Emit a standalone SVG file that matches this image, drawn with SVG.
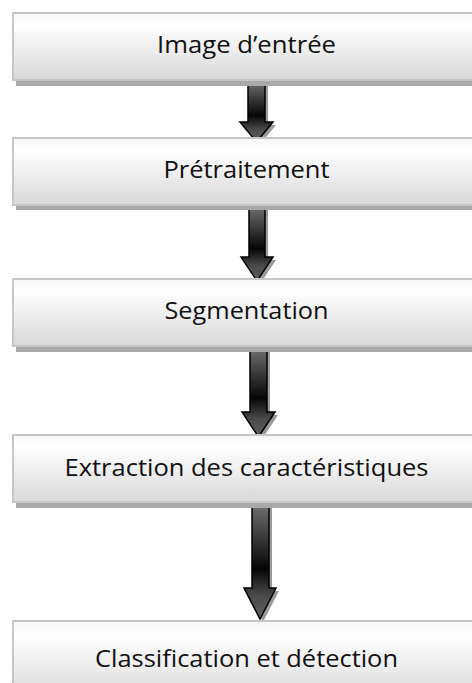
<svg xmlns="http://www.w3.org/2000/svg" width="472" height="683" viewBox="0 0 472 683">
<defs>
<linearGradient id="boxg" x1="0" y1="0" x2="0" y2="1">
<stop offset="0" stop-color="#f6f6f6"/>
<stop offset="0.18" stop-color="#ffffff"/>
<stop offset="1" stop-color="#d8d8d8"/>
</linearGradient>
<linearGradient id="arrg" x1="0" y1="0" x2="0" y2="1">
<stop offset="0" stop-color="#747474"/>
<stop offset="0.55" stop-color="#0a0a0a"/>
<stop offset="0.57" stop-color="#050505"/>
<stop offset="0.8" stop-color="#4a4a4a"/>
<stop offset="1" stop-color="#606060"/>
</linearGradient>
</defs>
<style>
.shadow{fill:#a9a9a9}
.box{fill:url(#boxg);stroke:#c6c6c6;stroke-width:2}
.lbl{font-family:"Open Sans","Noto Sans",sans-serif;font-size:24.5px;fill:#111;text-anchor:middle}
.arr{fill:url(#arrg);stroke:#000;stroke-width:1.5;stroke-linejoin:miter}
.arrs{fill:#9a9a9a}
</style>
<rect width="472" height="683" fill="#fff"/>
<g id="connectors">
<g id="a1">
<polygon class="arrs" transform="translate(3,3)" points="248,80 265,80 265,122 273,122 256.5,142 240,122 248,122"/>
<polygon class="arr" points="248,80 265,80 265,122 273,122 256.5,142 240,122 248,122"/>
</g>
<g id="a2">
<polygon class="arrs" transform="translate(3,3)" points="249,205 265,205 265,257 273,257 257,281 241,257 249,257"/>
<polygon class="arr" points="249,205 265,205 265,257 273,257 257,281 241,257 249,257"/>
</g>
<g id="a3">
<polygon class="arrs" transform="translate(3,3)" points="250,346 267,346 267,412 275,412 258.5,437 242,412 250,412"/>
<polygon class="arr" points="250,346 267,346 267,412 275,412 258.5,437 242,412 250,412"/>
</g>
<g id="a4">
<polygon class="arrs" transform="translate(3,3)" points="252,502 269,502 269,588 276,588 260,619 244,588 252,588"/>
<polygon class="arr" points="252,502 269,502 269,588 276,588 260,619 244,588 252,588"/>
</g>
</g>
<g id="n1">
<rect class="shadow" x="16" y="16" width="470" height="70"/>
<rect class="box" x="13" y="13" width="470" height="67"/>
<text class="lbl" x="246.5" y="53" textLength="179" lengthAdjust="spacingAndGlyphs">Image d’entrée</text>
</g>
<g id="n2">
<rect class="shadow" x="16" y="141" width="470" height="69"/>
<rect class="box" x="13" y="138" width="470" height="67"/>
<text class="lbl" x="246.5" y="178" textLength="166" lengthAdjust="spacingAndGlyphs">Prétraitement</text>
</g>
<g id="n3">
<rect class="shadow" x="16" y="282" width="470" height="70"/>
<rect class="box" x="13" y="279" width="470" height="67"/>
<text class="lbl" x="246.5" y="319" textLength="164" lengthAdjust="spacingAndGlyphs">Segmentation</text>
</g>
<g id="n4">
<rect class="shadow" x="16" y="438" width="470" height="70"/>
<rect class="box" x="13" y="435" width="470" height="67"/>
<text class="lbl" x="246.5" y="476" textLength="364" lengthAdjust="spacingAndGlyphs">Extraction des caractéristiques</text>
</g>
<g id="n5">
<rect class="shadow" x="16" y="624" width="470" height="80"/>
<rect class="box" x="13" y="621" width="470" height="80"/>
<text class="lbl" x="246.5" y="667" textLength="303" lengthAdjust="spacingAndGlyphs">Classification et détection</text>
</g>
</svg>
